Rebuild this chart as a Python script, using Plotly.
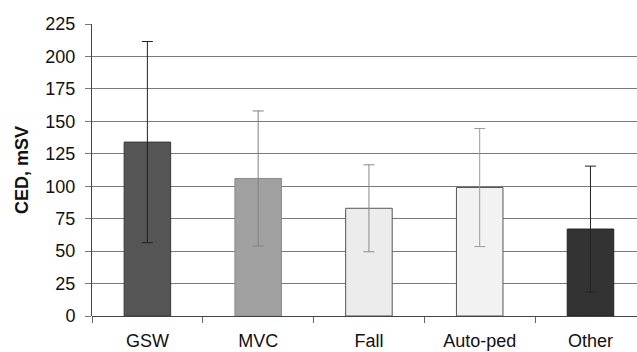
import plotly.graph_objects as go

categories = ["GSW", "MVC", "Fall", "Auto-ped", "Other"]
ced_means = [134, 106, 83, 99, 67]
ced_sd = [77.5, 52, 33.5, 45.5, 48.5]

bar_fill = ["#555555", "#a0a0a0", "#ececec", "#f2f2f2", "#333333"]
bar_edge = ["#3a3a3a", "#8a8a8a", "#555555", "#555555", "#222222"]
err_color = ["#222222", "#808080", "#8a8a8a", "#9a9a9a", "#222222"]

fig = go.Figure()
for i, cat in enumerate(categories):
    fig.add_trace(go.Bar(
        x=[cat], y=[ced_means[i]],
        width=0.42,
        marker=dict(color=bar_fill[i], line=dict(color=bar_edge[i], width=1)),
        error_y=dict(type="data", array=[ced_sd[i]], color=err_color[i],
                     thickness=1, width=5.5, visible=True),
        showlegend=False,
    ))

font_main = "Liberation Sans, Arial, sans-serif"
fig.update_layout(
    width=637, height=352,
    margin=dict(l=92, r=0, t=24, b=36, autoexpand=False),
    paper_bgcolor="white", plot_bgcolor="white",
    barmode="overlay",
    font=dict(family=font_main, size=18, color="#111111"),
    xaxis=dict(
        type="category", categoryorder="array", categoryarray=categories,
        range=[-0.5, 4.42], automargin=False,
        showgrid=False, showline=False, zeroline=False,
        ticks="outside", tickson="boundaries", ticklen=6, tickcolor="#666666",
        tickfont=dict(size=18, family=font_main, color="#111111"),
        ticklabelstandoff=12,
    ),
    yaxis=dict(
        range=[0, 225], tickvals=[0, 25, 50, 75, 100, 125, 150, 175, 200, 225],
        automargin=False,
        showgrid=True, gridcolor="#7a7a7a", gridwidth=1,
        showline=True, linecolor="#444444", linewidth=1,
        zeroline=True, zerolinecolor="#444444", zerolinewidth=1,
        ticks="outside", ticklen=6, tickcolor="#7a7a7a",
        tickfont=dict(size=18, family=font_main, color="#111111"),
        ticklabelstandoff=6,
        title=dict(text="<b>CED, mSV</b>", font=dict(size=18, family=font_main, color="#111111"),
                   standoff=12),
    ),
)

fig.write_html("out.html", config={"displayModeBar": False},
               post_script="document.body.style.margin='0px';")
